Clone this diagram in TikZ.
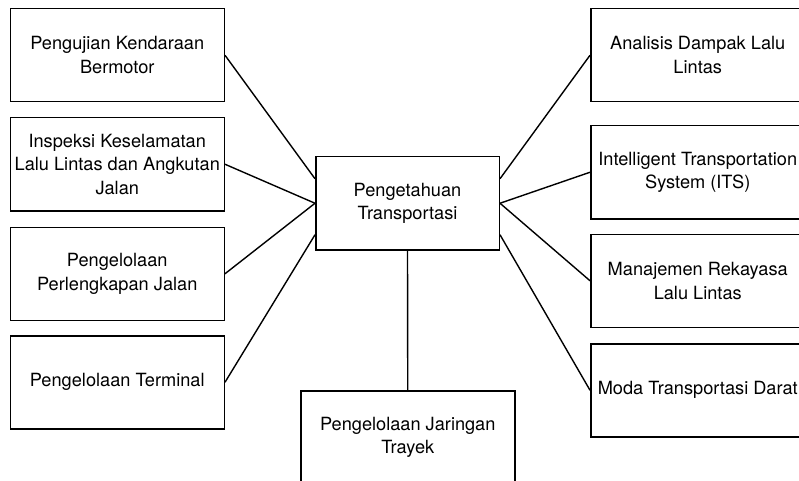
\documentclass[tikz,border=0pt]{standalone}
\usepackage{fontspec}
\setmainfont{TeX Gyre Heros}
\usetikzlibrary{calc}
\begin{document}
\begin{tikzpicture}[x=1pt,y=-1pt,
  box/.style={draw=black, line width=1.5pt, fill=white, minimum width=214pt,
    minimum height=93pt, inner sep=0pt, align=center, anchor=north west,
    font=\fontsize{18.2}{23.7}\selectfont},
  hub/.style={box, minimum width=183.5pt},
  link/.style={draw=black, line width=1.4pt}]
\useasboundingbox (0,0) rectangle (799,481);

% central topic
\node[hub] (c) at (315,156) {Pengetahuan\\Transportasi};

% left column
\node[box] (l1) at (9.5,8)     {Pengujian Kendaraan\\Bermotor};
\node[box] (l2) at (9.5,117)   {Inspeksi Keselamatan\\Lalu Lintas dan Angkutan\\Jalan};
\node[box] (l3) at (9.5,226.5) {Pengelolaan\\Perlengkapan Jalan};
\node[box] (l4) at (9.5,335)   {Pengelolaan Terminal};

% right column
\node[box] (r1) at (590,8)     {Analisis Dampak Lalu\\Lintas};
\node[box] (r2) at (590,125)   {Intelligent Transportation\\System (ITS)};
\node[box] (r3) at (590,233.5) {Manajemen Rekayasa\\Lalu Lintas};
\node[box] (r4) at (590,343)   {Moda Transportasi Darat};

% bottom
\node[box] (b) at (300,390) {Pengelolaan Jaringan\\Trayek};

% attachment points on the central box
\coordinate (cwt) at ($(c.west)+(0,-24.5)$);
\coordinate (cwb) at ($(c.west)+(0,31.5)$);
\coordinate (cet) at ($(c.east)+(0,-24.5)$);
\coordinate (ceb) at ($(c.east)+(0,31.5)$);

% connectors
\draw[link] (l1.east) -- (cwt);
\draw[link] (l2.east) -- (c.west);
\draw[link] (l3.east) -- (c.west);
\draw[link] (l4.east) -- (cwb);
\draw[link] (r1.west) -- (cet);
\draw[link] (r2.west) -- (c.east);
\draw[link] (r3.west) -- (c.east);
\draw[link] (r4.west) -- (ceb);
\draw[link] (c.south) -- (b.north);
\end{tikzpicture}
\end{document}
